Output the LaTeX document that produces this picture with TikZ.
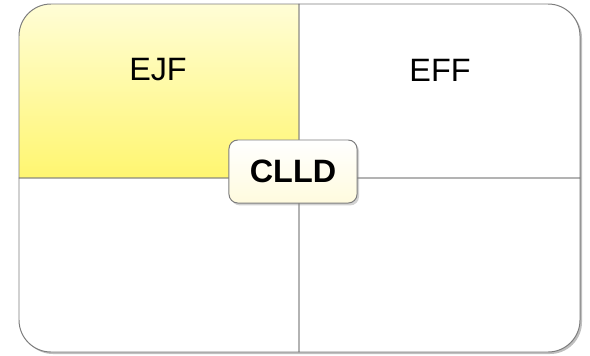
\documentclass[tikz,border=0pt]{standalone}
\usepackage{fontspec}
\setmainfont{Liberation Sans}
\usetikzlibrary{shadows}
\definecolor{edgegray}{RGB}{125,125,125}
\definecolor{paleyellow}{RGB}{255,253,214}
\definecolor{deepyellow}{RGB}{255,246,112}
\definecolor{cream}{RGB}{255,251,222}
\begin{document}
\begin{tikzpicture}[
        x=0.025cm, y=-0.025cm,
        quad/.style={draw=edgegray, line width=0.7pt},
        label/.style={font=\fontsize{23}{27}\selectfont},
        center/.style={draw=edgegray, line width=0.7pt, rounded corners=0.22cm,
            top color=white, bottom color=cream, minimum width=3.2cm, minimum height=1.575cm,
            font=\bfseries\fontsize{23}{27}\selectfont,
            drop shadow={shadow xshift=0.05cm, shadow yshift=-0.06cm, opacity=0.35}}
    ]
        \useasboundingbox (0,0) rectangle (590,355);

        % Outer shadow
        \fill[black!25, rounded corners=0.8cm] (21,6) rectangle (582,354);

        % Quadrants
        \fill[white, rounded corners=0.8cm] (19,4) rectangle (580,352);
        \shade[top color=paleyellow, bottom color=deepyellow]
            (19,178) [rounded corners=0.8cm] -- (19,4) [sharp corners] -- (299,4) -- (299,178) -- cycle;
        \draw[quad] (19,178) [rounded corners=0.8cm] -- (19,4) [sharp corners] -- (299,4) -- (299,178) -- cycle;
        \draw[quad] (299,4) [rounded corners=0.8cm] -- (580,4) [sharp corners] -- (580,178) -- (299,178) -- cycle;
        \draw[quad] (19,178) [rounded corners=0.8cm] -- (19,352) [sharp corners] -- (299,352) -- (299,178) -- cycle;
        \draw[quad] (299,178) -- (580,178) [rounded corners=0.8cm] -- (580,352) [sharp corners] -- (299,352) -- cycle;

        % Labels
        \node[label] (ejf) at (158,70) {EJF};
        \node[label] (eff) at (440,70) {EFF};
        \node[center] (clld) at (293,171.5) {CLLD};
    \end{tikzpicture}
\end{document}
